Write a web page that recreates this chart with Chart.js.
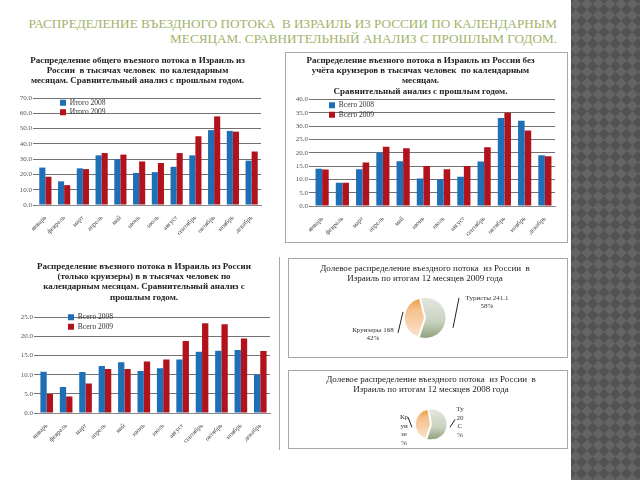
<!DOCTYPE html>
<html lang="ru">
<head>
<meta charset="utf-8">
<script src="https://cdn.jsdelivr.net/npm/chart.js@4.4.1/dist/chart.umd.min.js"></script>
<style>
  body { margin: 0; width: 640px; height: 480px; background: #fff; position: relative; overflow: hidden; font-family: 'Liberation Serif', serif; }
  canvas, .frame { position: absolute; }
  .frame { border: 1px solid #a8a8a8; box-sizing: border-box; }
  #strip { position: absolute; left: 571px; top: 0; width: 69px; height: 480px; overflow: hidden; background: #5a5a5a; }
  #strip div { position: absolute; left: -200px; top: -200px; width: 500px; height: 900px;
    background: conic-gradient(#646464 25%, #525252 0 50%, #646464 0 75%, #525252 0); background-size: 16px 16px; transform: rotate(45deg); }
  #title { position: absolute; right: 83px; top: 16px; text-align: right; color: #a1b46a; font-size: 13.2px; line-height: 15px; white-space: nowrap; }
</style>
</head>
<body>
<div id="strip"><div></div></div>
<div id="title">РАСПРЕДЕЛЕНИЕ ВЪЕЗДНОГО ПОТОКА &nbsp;В ИЗРАИЛЬ ИЗ РОССИИ ПО КАЛЕНДАРНЫМ<br>МЕСЯЦАМ. СРАВНИТЕЛЬНЫЙ АНАЛИЗ С ПРОШЛЫМ ГОДОМ.</div>

<div class="frame" style="left:285px;top:52px;width:283px;height:191px"></div>
<div class="frame" style="left:18px;top:257px;width:262px;height:193px;border-width:0 1px 0 0"></div>
<div class="frame" style="left:288px;top:258px;width:280px;height:100px"></div>
<div class="frame" style="left:288px;top:370px;width:280px;height:79px"></div>

<canvas id="chartTotal" width="252" height="182" style="left:14px;top:53px"></canvas>
<canvas id="chartTourists" width="281" height="189" style="left:286px;top:53px"></canvas>
<canvas id="chartCruise" width="258" height="193" style="left:18px;top:257px"></canvas>
<canvas id="pie2009" width="278" height="98" style="left:289px;top:259px"></canvas>
<canvas id="pie2008" width="278" height="77" style="left:289px;top:371px"></canvas>

<script>
// Данные (тыс. человек)
const months = ['январь', 'февраль', 'март', 'апрель', 'май', 'июнь', 'июль', 'август', 'сентябрь', 'октябрь', 'ноябрь', 'декабрь'];

const total2008 = [24.5, 15.5, 24.0, 32.5, 30.0, 21.0, 21.5, 25.0, 32.5, 49.0, 48.5, 29.0];
const total2009 = [18.5, 13.0, 23.5, 34.0, 33.0, 28.5, 27.5, 34.0, 45.0, 58.0, 48.0, 35.0];

const tourists2008 = [14.0, 8.7, 13.8, 20.0, 16.8, 10.3, 10.0, 11.0, 16.7, 33.0, 32.0, 19.0];
const tourists2009 = [13.7, 8.7, 16.3, 22.2, 21.7, 15.0, 13.8, 15.0, 22.0, 35.0, 28.3, 18.7];

const cruise2008 = [10.8, 6.8, 10.7, 12.3, 13.3, 11.0, 11.7, 14.0, 16.0, 16.3, 16.5, 10.0];
const cruise2009 = [5.0, 4.3, 7.7, 11.5, 11.5, 13.5, 14.0, 18.8, 23.5, 23.2, 19.5, 16.2];

const pieLabels = ['Круизеры', 'Туристы'];
const pie2009 = [168.0, 241.1];
const pie2008 = [149.4, 205.3];
const pieText2009 = [['Круизеры 168', '42%'], ['Туристы 241.1', '58%']];
const pieText2008 = [['Кр', 'уи', 'зе', '%'], ['Ту', '20', 'С', '%']];

const serif = "'Liberation Serif', 'DejaVu Serif', serif";
const blue = '#1f6fb7';
const red = '#b2121b';

// Сдвиг легенды внутрь области графика
const legendShift = {
  id: 'legendShift',
  afterLayout(chart, args, opts) {
    const lg = chart.legend;
    if (!lg || opts.dx === undefined) return;
    const h = lg.height;
    lg.left = chart.chartArea.left + opts.dx;
    lg.top = chart.chartArea.top + opts.dy;
    lg.right = lg.left + lg.width;
    lg.bottom = lg.top + h;
  }
};

// Подписи секторов круговой диаграммы
const pieText = {
  id: 'pieText',
  afterDatasetsDraw(chart, args, opts) {
    if (!opts.items) return;
    const ctx = chart.ctx;
    const arcs = chart.getDatasetMeta(0).data;
    ctx.save();
    ctx.font = opts.size + 'px ' + serif;
    ctx.fillStyle = '#333';
    ctx.strokeStyle = '#222';
    ctx.lineWidth = 1;
    ctx.textAlign = 'center';
    ctx.textBaseline = 'middle';
    arcs.forEach((arc, i) => {
      const it = opts.items[i];
      const r = arc.outerRadius;
      const tx = arc.x + it.dx * r;
      const ty = arc.y + it.dy * r;
      opts.text[i].forEach((line, k) => ctx.fillText(line, tx, ty + k * opts.lh));
      ctx.beginPath();
      ctx.moveTo(arc.x + it.lx[0] * r, arc.y + it.ly[0] * r);
      ctx.lineTo(arc.x + it.lx[1] * r, arc.y + it.ly[1] * r);
      ctx.stroke();
    });
    ctx.restore();
  }
};

// Градиентная заливка секторов (как в исходной 3D-диаграмме)
function sliceFill(c, radius) {
  const chart = c.chart;
  const area = chart.chartArea;
  if (!area) return '#ddd';
  const cy = (area.top + area.bottom) / 2;
  const g = chart.ctx.createLinearGradient(0, cy - radius, 0, cy + radius);
  if (c.dataIndex === 0) {
    g.addColorStop(0, '#ee9a3c');
    g.addColorStop(0.3, '#f6c18f');
    g.addColorStop(1, '#fbe3cc');
  } else {
    g.addColorStop(0, '#e2e7de');
    g.addColorStop(0.6, '#c9d2c1');
    g.addColorStop(1, '#8fa17b');
  }
  return g;
}

function barChart(id, cfg) {
  return new Chart(document.getElementById(id), {
    type: 'bar',
    data: {
      labels: months,
      datasets: [
        { label: cfg.names[0], data: cfg.a, backgroundColor: blue },
        { label: cfg.names[1], data: cfg.b, backgroundColor: red }
      ]
    },
    plugins: [legendShift],
    options: {
      responsive: false,
      animation: false,
      layout: { padding: { left: 0, right: cfg.right, top: 0, bottom: 0 } },
      datasets: { bar: { categoryPercentage: 0.65, barPercentage: 1 } },
      plugins: {
        title: {
          display: true, text: cfg.title, color: '#222',
          font: { family: serif, size: 9, weight: 'bold', lineHeight: 1.15 },
          padding: cfg.titlePad
        },
        legend: {
          position: 'chartArea', align: 'start',
          labels: { boxWidth: 6, boxHeight: 6, padding: 2, color: '#333', font: { family: serif, size: 7.5 } }
        },
        legendShift: { dx: cfg.legend[0], dy: cfg.legend[1] },
        tooltip: { enabled: false }
      },
      scales: {
        x: {
          grid: { display: false },
          border: { color: '#888' },
          ticks: { color: '#444', minRotation: 45, maxRotation: 45, padding: 1, font: { family: serif, size: 6.5 } },
          afterFit(s) { s.height = cfg.xh; }
        },
        y: {
          min: 0, max: cfg.max,
          ticks: { stepSize: cfg.step, color: '#555', padding: 1, font: { family: serif, size: 7 }, callback: v => v.toFixed(1) },
          grid: { color: '#727272', tickLength: 3 },
          border: { display: false },
          afterFit(s) { s.width = cfg.yw; }
        }
      }
    }
  });
}

function pieChart(id, values, cfg) {
  return new Chart(document.getElementById(id), {
    type: 'pie',
    data: {
      labels: pieLabels,
      datasets: [{
        data: values, backgroundColor: c => sliceFill(c, cfg.radius), borderColor: '#fff', borderWidth: 1,
        offset: cfg.offset, radius: cfg.radius
      }]
    },
    plugins: [pieText],
    options: {
      responsive: false,
      animation: false,
      rotation: 198,
      layout: { padding: cfg.padding },
      plugins: {
        title: {
          display: true, text: cfg.title, color: '#222',
          font: { family: serif, size: 9, weight: 'normal', lineHeight: 1.15 },
          padding: cfg.titlePad
        },
        legend: { display: false },
        tooltip: { enabled: false },
        pieText: cfg.labels
      }
    }
  });
}

barChart('chartTotal', {
  title: ['Распределение общего въезного потока в Израиль из', 'России  в тысячах человек  по календарным', 'месяцам. Сравнительный анализ с прошлым годом.'],
  names: ['Итого 2008', 'Итого 2009'], a: total2008, b: total2009,
  max: 70, step: 10, yw: 22, xh: 30, right: 5, titlePad: { top: 2, bottom: 12 }, legend: [22, -1]
});

barChart('chartTourists', {
  title: ['Распределение въезного потока в Израиль из России без', 'учёта круизеров в тысячах человек  по календарным', 'месяцам.', 'Сравнительный анализ с прошлым годом.'],
  names: ['Всего 2008', 'Всего 2009'], a: tourists2008, b: tourists2009,
  max: 40, step: 5, yw: 26, xh: 36, right: 12, titlePad: { top: 2, bottom: 3 }, legend: [15, 0]
});

barChart('chartCruise', {
  title: ['Распределение въезного потока в Израиль из России', '(только круизеры) в в тысячах человек по', 'календарным месяцам. Сравнительный анализ с', 'прошлым годом.'],
  names: ['Всего 2008', 'Всего 2009'], a: cruise2008, b: cruise2009,
  max: 25, step: 5, yw: 19, xh: 37, right: 6, titlePad: { top: 4, bottom: 15 }, legend: [29, -6]
});

pieChart('pie2009', pie2009, {
  title: ['Долевое распределение въездного потока  из России  в', 'Израиль по итогам 12 месяцев 2009 года'],
  titlePad: { top: 4, bottom: 6 }, offset: 2, radius: 20,
  padding: { left: 0, right: 6, top: 0, bottom: 11 },
  labels: { size: 7, lh: 8, text: pieText2009,
    items: [
      { dx: -2.6, dy: 0.6, lx: [-1.1, -1.35], ly: [-0.3, 0.75] },
      { dx: 3.1, dy: -1.0, lx: [1.4, 1.7], ly: [0.5, -1.0] }
    ] }
});

pieChart('pie2008', pie2008, {
  title: ['Долевое распределение въездного потока  из России  в', 'Израиль по итогам 12 месяцев 2008 года'],
  titlePad: { top: 3, bottom: 6 }, offset: 2, radius: 15,
  padding: { left: 6, right: 0, top: 0, bottom: 0 },
  labels: { size: 7, lh: 8.5, text: pieText2008,
    items: [
      { dx: -1.8, dy: -0.47, lx: [-1.53, -1.27], ly: [-0.47, 0.2] },
      { dx: 1.93, dy: -1.0, lx: [1.27, 1.6], ly: [0.2, -0.33] }
    ] }
});
</script>
</body>
</html>
